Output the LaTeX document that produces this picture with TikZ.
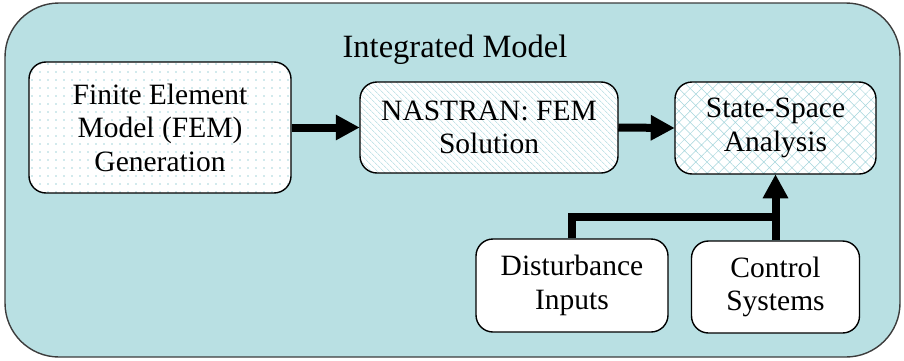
\documentclass[tikz,border=0pt]{standalone}
\usepackage{fontspec}
\setmainfont{Liberation Serif}
\usetikzlibrary{arrows.meta,patterns.meta}
\definecolor{panel}{RGB}{185,224,227}
\definecolor{panelline}{RGB}{60,60,60}
\definecolor{hatch}{RGB}{165,214,220}
\begin{document}
\begin{tikzpicture}[x=1pt,y=1pt,
  block/.style={draw=black, line width=1.4pt, rounded corners=17pt,
    align=center, inner sep=0pt, font=\fontsize{29.5}{33.5}\selectfont,
    preaction={fill=white}},
  dotted fill/.style={pattern={Dots[distance=8pt,radius=0.9pt]}, pattern color=hatch},
  lined fill/.style={pattern={Lines[angle=-45,distance=4pt,line width=0.5pt]}, pattern color=hatch},
  hatched fill/.style={pattern={Hatch[angle=45,distance=8pt,line width=0.5pt]}, pattern color=hatch},
  flow/.style={line width=8pt, -{Triangle[length=24pt,width=24pt]}},
  feed/.style={line width=8pt}]
\useasboundingbox (0,0) rectangle (904,360);
% outer container
\draw[draw=panelline, line width=1.4pt, fill=panel, rounded corners=54pt] (5,3) rectangle (900,357);
\node (title) at (455,310) {\fontsize{32.5}{38}\selectfont Integrated Model};
% blocks
\node[block, dotted fill, minimum width=262pt, minimum height=131pt] (fem) at (160,232.5)
  {Finite Element\\Model (FEM)\\Generation};
\node[block, lined fill, minimum width=258pt, minimum height=91pt] (nas) at (489,232.5)
  {NASTRAN: FEM\\Solution};
\node[block, hatched fill, minimum width=201pt, minimum height=92pt] (ssa) at (775.5,232)
  {State-Space\\Analysis};
\node[block, minimum width=192pt, minimum height=93pt] (dist) at (572,74.5)
  {Disturbance\\Inputs};
\node[block, minimum width=168pt, minimum height=92pt] (ctrl) at (775.5,73)
  {Control\\Systems};
% connectors
\coordinate (join) at (775.5,143);
\draw[flow] (fem.east) -- (nas.west);
\draw[flow] (nas.east) -- (ssa.west);
\draw[feed] (dist.north) |- ([xshift=4pt]join);
\draw[flow] (ctrl.north) -- (ssa.south);
\end{tikzpicture}
\end{document}
